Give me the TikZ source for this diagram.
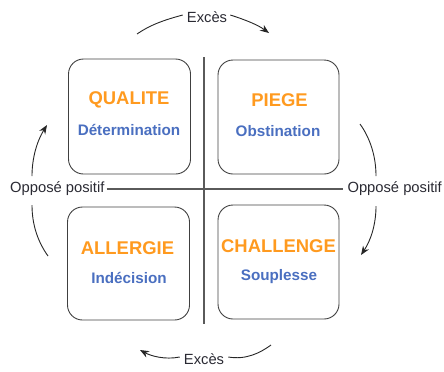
\documentclass[tikz,border=0pt]{standalone}
\usepackage{fontspec}
\setmainfont{Liberation Sans}
\usetikzlibrary{arrows.meta}
\definecolor{orng}{HTML}{FF9A1F}
\definecolor{blu}{HTML}{4A6FC0}
\definecolor{txt}{HTML}{2A2A33}
\definecolor{boxc}{HTML}{404040}
\definecolor{axisc}{HTML}{5A5A5A}
\begin{document}
\begin{tikzpicture}[x=1bp,y=-1bp,
  quad/.style={draw=boxc,line width=0.9bp,rounded corners=15bp,minimum width=122bp,minimum height=115bp,inner sep=0},
  ttl/.style={text=orng,font=\bfseries\fontsize{18.5}{20}\selectfont,inner sep=0},
  sub/.style={text=blu,font=\bfseries\fontsize{15.3}{17}\selectfont,inner sep=0},
  lbl/.style={text=txt,font=\fontsize{14.8}{16}\selectfont,inner sep=0},
  axis/.style={draw=axisc,line width=1.4bp},
  arc/.style={draw=black!85,line width=0.9bp},
  arr/.style={arc,-{Stealth[length=9bp,width=7bp]}}]
\useasboundingbox (0,0) rectangle (444,371);
% boxes
\node[quad] (q1) at (129.5,116.5) {};
\node[quad,minimum width=121bp,minimum height=114bp] (q2) at (278.5,117) {};
\node[quad,minimum height=113bp] (q3) at (128.5,263.5) {};
\node[quad,minimum width=121bp,minimum height=114bp] (q4) at (278.5,262) {};
% texts
\node[ttl] (t1) at (129,100) {QUALITE};
\node[sub] (s1) at (129,130) {Détermination};
\node[ttl] (t2) at (279.5,100) {PIEGE};
\node[sub] (s2) at (278,131) {Obstination};
\node[ttl] (t3) at (127.5,248) {ALLERGIE};
\node[sub] (s3) at (129,278) {Indécision};
\node[ttl] (t4) at (278.5,246) {CHALLENGE};
\node[sub] (s4) at (279,277) {Souplesse};
% labels
\node[lbl,anchor=west] (ol) at (10,189) {Opposé positif};
\node[lbl,anchor=east] (or) at (442,189) {Opposé positif};
\node[lbl] (et) at (207,17) {Excès};
\node[lbl] (eb) at (204,359) {Excès};
% axes
\coordinate (vt) at (204,57);
\coordinate (vb) at (204,324);
\draw[axis] (vt) -- (vb);
\draw[axis] ([xshift=2bp]ol.east) -- ([xshift=-4bp]or.west);
% cycle arrows
\coordinate (a1) at (137,34);
\coordinate (a2) at (269,33);
\draw[arc] (a1) .. controls (150,25) and (164,20) .. ([xshift=-4bp,yshift=2bp]et.west);
\draw[arr] ([xshift=3bp,yshift=2bp]et.east) .. controls (246,20) and (258,25) .. (a2);
\coordinate (b1) at (360,124);
\coordinate (b2) at (376,176);
\coordinate (b3) at (376,206);
\coordinate (b4) at (361,255);
\draw[arc] (b1) .. controls (370,138) and (376,156) .. (b2);
\draw[arr] (b3) .. controls (376,224) and (371,240) .. (b4);
\coordinate (c1) at (271,345);
\coordinate (c2) at (140,350);
\draw[arc] (c1) .. controls (260,353) and (246,360) .. ([xshift=4bp,yshift=2bp]eb.east);
\draw[arr] ([xshift=-4bp,yshift=2bp]eb.west) .. controls (165,360) and (151,356) .. (c2);
\coordinate (d1) at (48,256);
\coordinate (d2) at (32,205);
\coordinate (d3) at (32,176);
\coordinate (d4) at (47,125);
\draw[arc] (d1) .. controls (38,242) and (32,225) .. (d2);
\draw[arr] (d3) .. controls (32,158) and (37,141) .. (d4);
\end{tikzpicture}
\end{document}
